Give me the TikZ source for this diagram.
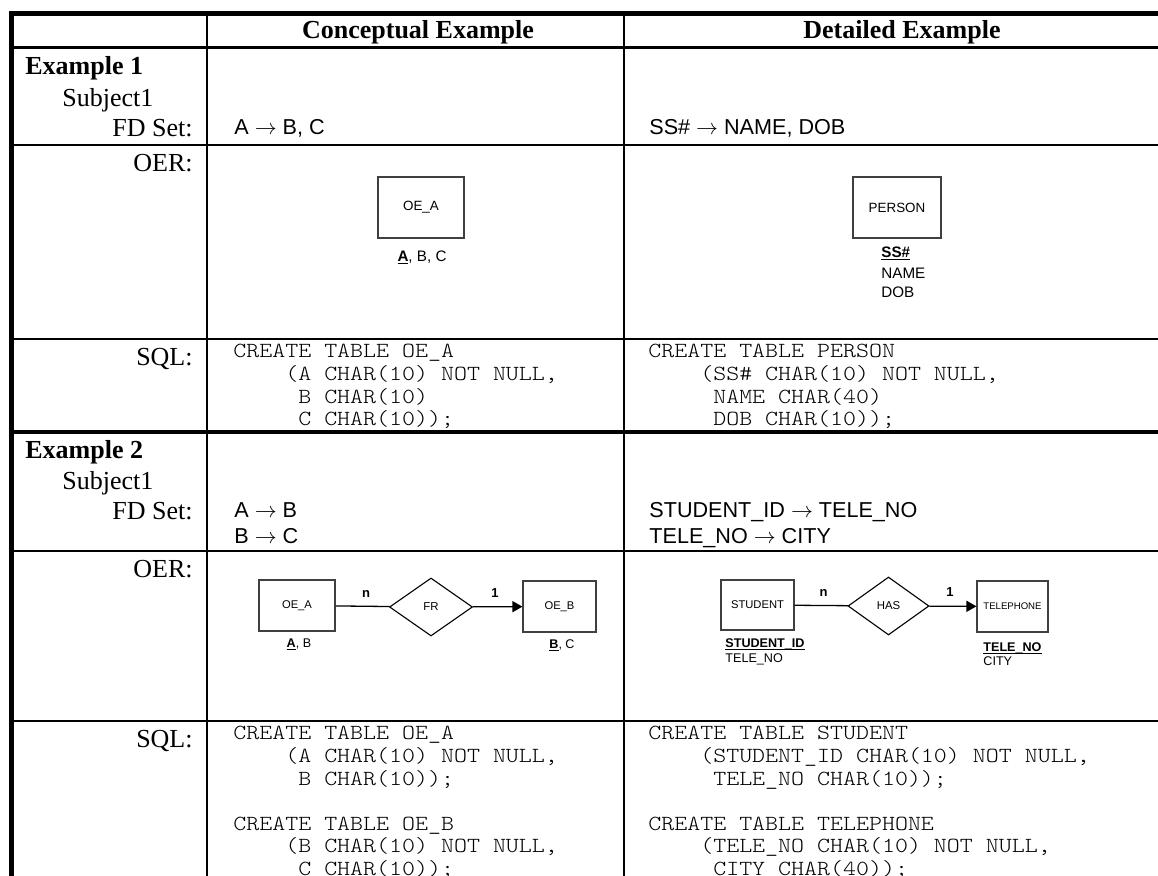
\documentclass[tikz,border=0pt]{standalone}
\usepackage{fontspec}
\setmainfont{Liberation Serif}
\newfontfamily\arialfont{Liberation Sans}
\newfontfamily\codefont[FakeStretch=1.15]{lmmonolt10-regular.otf}
\usetikzlibrary{shapes.geometric,arrows.meta}
\newdimen\pxu \pxu=0.5pt
% bold, underlined key attribute with a rule close to the baseline
\newcommand\keyattr[1]{\setbox0=\hbox{\bfseries #1}\rlap{\rule[-0.16em]{\wd0}{0.08em}}\box0}

\begin{document}
\begin{tikzpicture}[x=0.5pt,y=-0.5pt,
  hdr/.style={inner sep=0, anchor=base, font=\fontsize{13}{15}\selectfont\bfseries},
  rowhead/.style={inner sep=0, anchor=base west, font=\fontsize{13}{15}\selectfont},
  rowlbl/.style={inner sep=0, anchor=base east, font=\fontsize{13}{15}\selectfont},
  fd/.style={inner sep=0, anchor=base west, font=\arialfont\fontsize{10.8}{13}\selectfont},
  code/.style={inner sep=0, anchor=base west, font=\codefont\fontsize{10.75}{12}\selectfont},
  ent/.style={draw=black!75, line width=0.55pt, inner sep=0, font=\arialfont\fontsize{5.6}{7}\selectfont},
  rel/.style={draw=black, line width=0.55pt, diamond, inner sep=0, font=\arialfont\fontsize{5.7}{7}\selectfont},
  attr/.style={inner sep=0, font=\arialfont\fontsize{7.6}{9}\selectfont},
  attrs/.style={inner sep=0, font=\arialfont\fontsize{6.3}{8}\selectfont},
  card/.style={inner sep=0, anchor=base, font=\arialfont\bfseries\fontsize{6.5}{8}\selectfont},
  conn/.style={line width=0.65pt},
  tip/.style={conn, -{Triangle[length=5pt,width=5.5pt]}},
  rulethin/.style={line width=1pt},
  rulethick/.style={line width=1.85pt},
  ruleouter/.style={line width=2.4pt},
]
\useasboundingbox (0,0) rectangle (1158,876);
\clip (0,0) rectangle (1158,876);

% ---- table rules ----
\draw[ruleouter] (11.5,880) -- (11.5,13.5) -- (1200,13.5);
\draw[rulethick] (10,47.5) -- (1200,47.5);
\draw[rulethin]  (10,145) -- (1200,145);
\draw[rulethin]  (10,339) -- (1200,339);
\draw[rulethick] (10,432) -- (1200,432);
\draw[rulethin]  (10,551) -- (1200,551);
\draw[rulethin]  (10,721) -- (1200,721);
\draw[rulethin]  (206.5,13) -- (206.5,880);
\draw[rulethin]  (624,13) -- (624,880);

% ---- header ----
\node[hdr] (hconc) at (418,39) {Conceptual Example};
\node[hdr] (hdet)  at (902,39) {Detailed Example};

% ---- example 1 ----
\node[rowhead, font=\fontsize{13}{15}\selectfont\bfseries] (ex1) at (25,75) {Example 1};
\node[rowhead] (subj1) at (62,107) {Subject1};
\node[rowlbl] (fd1)  at (193,137) {FD Set:};
\node[rowlbl] (oer1) at (193,172) {OER:};
\node[rowlbl] (sql1) at (193,366) {SQL:};

\node[fd] (fda1) at (234,135) {A $\rightarrow$ B, C};
\node[fd] (fdb1) at (649,135) {SS\# $\rightarrow$ NAME, DOB};

\node[ent, minimum width=86\pxu, minimum height=61\pxu, font=\arialfont\fontsize{6.7}{8}\selectfont] (oeA) at (421,207.5) {OE\_A};
\node[attr, anchor=base] (oeAattr) at (422,262) {\keyattr{A}, B, C};

\node[ent, minimum width=88\pxu, minimum height=61\pxu, font=\arialfont\fontsize{6.7}{8}\selectfont] (person) at (897,207.5) {PERSON};
\node[attr, anchor=base west] (pk1) at (881,258) {\keyattr{SS\#}};
\node[attr, anchor=base west] (pname) at (881,279) {NAME};
\node[attr, anchor=base west] (pdob) at (881,298) {DOB};

\node[code] (s1a) at (233,358)   {CREATE TABLE OE\_A};
\node[code] (s1b) at (233,380.6) {~~~~(A CHAR(10) NOT NULL,};
\node[code] (s1c) at (233,403.2) {~~~~~B CHAR(10)};
\node[code] (s1d) at (233,425.8) {~~~~~C CHAR(10));};

\node[code] (t1a) at (648,358)   {CREATE TABLE PERSON};
\node[code] (t1b) at (648,380.6) {~~~~(SS\# CHAR(10) NOT NULL,};
\node[code] (t1c) at (648,403.2) {~~~~~NAME CHAR(40)};
\node[code] (t1d) at (648,425.8) {~~~~~DOB CHAR(10));};

% ---- example 2 ----
\node[rowhead, font=\fontsize{13}{15}\selectfont\bfseries] (ex2) at (25,459) {Example 2};
\node[rowhead] (subj2) at (62,490) {Subject1};
\node[rowlbl] (fd2)  at (193,520) {FD Set:};
\node[rowlbl] (oer2) at (193,578) {OER:};
\node[rowlbl] (sql2) at (193,748) {SQL:};

\node[fd] (fda2) at (234,518) {A $\rightarrow$ B};
\node[fd] (fda3) at (234,544) {B $\rightarrow$ C};
\node[fd] (fdb2) at (649,518) {STUDENT\_ID $\rightarrow$ TELE\_NO};
\node[fd] (fdb3) at (649,544) {TELE\_NO $\rightarrow$ CITY};

% conceptual diagram
\node[ent, minimum width=76\pxu, minimum height=51\pxu] (oeA2) at (297,605.5) {OE\_A};
\node[rel, minimum width=83\pxu, minimum height=58\pxu] (fr) at (431,607) {FR};
\node[ent, minimum width=73\pxu, minimum height=51\pxu] (oeB2) at (559.5,606.5) {OE\_B};
\draw[conn] (oeA2) -- (fr);
\draw[tip] (fr) -- (oeB2);
\node[card] (cn1) at (366,598) {n};
\node[card] (c11) at (495,598) {1};
\node[attrs, anchor=base] (oeA2attr) at (299,648) {\keyattr{A}, B};
\node[attrs, anchor=base] (oeB2attr) at (562,649) {\keyattr{B}, C};

% detailed diagram
\node[ent, minimum width=73\pxu, minimum height=50\pxu] (student) at (757.5,605) {STUDENT};
\node[rel, minimum width=81\pxu, minimum height=58\pxu] (has) at (888.5,606) {HAS};
\node[ent, minimum width=71\pxu, minimum height=51\pxu, font=\arialfont\fontsize{4.8}{6}\selectfont] (tel) at (1012.5,606.5) {TELEPHONE};
\draw[conn] (student) -- (has);
\draw[tip] (has) -- (tel);
\node[card] (cn2) at (823.5,597) {n};
\node[card] (c12) at (950,597) {1};
\node[attrs, anchor=base west] (spk) at (725,648) {\keyattr{STUDENT\_ID}};
\node[attrs, anchor=base west] (stel) at (725,663) {TELE\_NO};
\node[attrs, anchor=base west] (tpk) at (983,652) {\keyattr{TELE\_NO}};
\node[attrs, anchor=base west] (tcity) at (983,666) {CITY};

\node[code] (s2a) at (233,740)   {CREATE TABLE OE\_A};
\node[code] (s2b) at (233,762.6) {~~~~(A CHAR(10) NOT NULL,};
\node[code] (s2c) at (233,785.2) {~~~~~B CHAR(10));};
\node[code] (s2d) at (233,830.4) {CREATE TABLE OE\_B};
\node[code] (s2e) at (233,853)   {~~~~(B CHAR(10) NOT NULL,};
\node[code] (s2f) at (233,875.6) {~~~~~C CHAR(10));};

\node[code] (t2a) at (648,740)   {CREATE TABLE STUDENT};
\node[code] (t2b) at (648,762.6) {~~~~(STUDENT\_ID CHAR(10) NOT NULL,};
\node[code] (t2c) at (648,785.2) {~~~~~TELE\_NO CHAR(10));};
\node[code] (t2d) at (648,830.4) {CREATE TABLE TELEPHONE};
\node[code] (t2e) at (648,853)   {~~~~(TELE\_NO CHAR(10) NOT NULL,};
\node[code] (t2f) at (648,875.6) {~~~~~CITY CHAR(40));};
\end{tikzpicture}
\end{document}
